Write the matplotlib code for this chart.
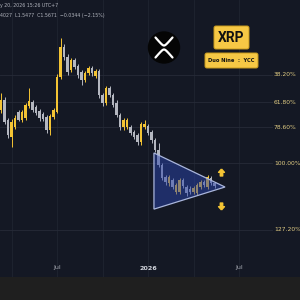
import numpy as np
import matplotlib
matplotlib.use("Agg")
import matplotlib.pyplot as plt
from matplotlib import transforms
from matplotlib.patches import Rectangle, Polygon, Circle, FancyBboxPatch
from matplotlib.path import Path

# ---------------- data (weekly XRP candles) ----------------
opens = [2.471, 2.623, 2.328, 2.103, 2.233, 2.442, 2.328, 2.356, 2.531, 2.592,
         2.516, 2.456, 2.413, 2.370, 2.193, 2.370, 2.442, 3.010, 3.601, 3.392,
         3.138, 3.331, 3.214, 3.101, 2.956, 3.083, 3.176, 3.028, 3.120, 2.703,
         2.577, 2.819, 2.703, 2.577, 2.398, 2.233, 2.233, 2.233, 2.167, 2.128,
         2.042, 2.233, 2.246, 2.167, 2.066, 1.946, 1.779, 1.656, 1.598, 1.627,
         1.514, 1.514, 1.627, 1.560, 1.541, 1.514, 1.505, 1.560, 1.608, 1.560,
         1.647, 1.6015]
highs = [2.736, 2.671, 2.356, 2.342, 2.398, 2.471, 2.471, 2.577, 2.819, 2.623,
         2.546, 2.486, 2.442, 2.398, 2.413, 2.501, 3.064, 3.800, 3.666, 3.453,
         3.371, 3.371, 3.253, 3.138, 3.120, 3.214, 3.214, 3.157, 3.157, 2.736,
         2.852, 2.852, 2.736, 2.623, 2.427, 2.356, 2.356, 2.259, 2.193, 2.154,
         2.300, 2.328, 2.273, 2.193, 2.091, 2.030, 1.801, 1.676, 1.676, 1.647,
         1.598, 1.647, 1.647, 1.579, 1.570, 1.570, 1.598, 1.627, 1.627, 1.676,
         1.666, 1.6027]
lows = [2.427, 2.273, 2.091, 1.981, 2.206, 2.314, 2.300, 2.328, 2.501, 2.442,
        2.398, 2.314, 2.314, 2.154, 2.128, 2.342, 2.427, 2.974, 3.331, 3.046,
        3.101, 3.157, 2.992, 2.869, 2.921, 3.046, 3.028, 2.992, 2.655, 2.531,
        2.546, 2.671, 2.516, 2.370, 2.193, 2.193, 2.206, 2.128, 2.078, 2.005,
        2.005, 2.206, 2.128, 2.030, 1.923, 1.758, 1.627, 1.579, 1.570, 1.541,
        1.496, 1.496, 1.551, 1.478, 1.496, 1.496, 1.487, 1.541, 1.560, 1.541,
        1.579, 1.5477]
closes = [2.623, 2.300, 2.128, 2.300, 2.356, 2.328, 2.442, 2.546, 2.608, 2.471,
          2.427, 2.356, 2.342, 2.193, 2.384, 2.471, 3.010, 3.601, 3.392, 3.101,
          3.331, 3.195, 3.046, 2.956, 3.083, 3.176, 3.083, 3.120, 2.703, 2.577,
          2.819, 2.703, 2.546, 2.398, 2.233, 2.328, 2.328, 2.154, 2.103, 2.042,
          2.273, 2.273, 2.154, 2.066, 1.946, 1.779, 1.647, 1.608, 1.656, 1.560,
          1.579, 1.627, 1.570, 1.505, 1.514, 1.551, 1.579, 1.608, 1.579, 1.656,
          1.598, 1.5671]

fib_labels = ["38.20%", "61.80%", "78.60%", "100.00%", "127.20%"]
fib_prices = [3.046, 2.592, 2.232, 1.800, 1.207]

tick_pos = [16, 42, 68]
tick_labels = ["Jul", "2026", "Jul"]
grid_pos = [3, 16, 29, 42, 55, 68]

tri_x = [43.7, 43.7, 64.0]
tri_y = [1.912, 1.367, 1.560]

arrow_up = (62.9, 1.707)
arrow_down = (62.9, 1.392)

header1 = "y 20, 2026 15:26 UTC+7"
header2 = "4027  L1.5477  C1.5671  \u22120.0344 (\u22122.15%)"

# ---------------- style ----------------
BG = "#141824"
YEL = "#f4c434"
GRY = "#b4b7c0"
FIBC = "#e2cd84"

fig = plt.figure(figsize=(3, 3), dpi=100, facecolor=BG)
ax = fig.add_axes([0, 0, 1, 1])
ax.set_yscale("log")
ax.set_xlim(-0.29, 85.43)
ax.set_ylim(0.7944, 4.767)
ax.axis("off")

# grid
for g in grid_pos:
    ax.axvline(g, color="#1f2431", lw=0.6, zorder=0)
blend = transforms.blended_transform_factory(ax.transAxes, ax.transData)
for p, lab in zip(fib_prices, fib_labels):
    ax.plot([0, 0.905], [p, p], transform=blend, color="#262b38", lw=0.6, zorder=0)
    ax.text(0.913, p, lab, transform=blend, color=FIBC, fontsize=4.3,
            ha="left", va="center", zorder=6)

# candles
o = np.array(opens); h = np.array(highs); l = np.array(lows); c = np.array(closes)
x = np.arange(len(o))
up = c >= o
cols = np.where(up, YEL, GRY)
ax.vlines(x, l, h, colors=cols, lw=0.7, zorder=2)
bottom = np.minimum(o, c)
height = np.maximum(np.abs(c - o), 0.008)
ax.bar(x, height, bottom=bottom, width=0.84, color=cols, linewidth=0, zorder=3)

# triangle
tri = Polygon(list(zip(tri_x, tri_y)), closed=True, facecolor=(0.17, 0.27, 0.68, 0.5),
              edgecolor="#aab6dc", lw=0.9, zorder=4)
ax.add_patch(tri)

# arrows
up_path = Path([(0, 1), (0.85, 0.05), (0.35, 0.05), (0.35, -1), (-0.35, -1),
                (-0.35, 0.05), (-0.85, 0.05), (0, 1)])
down_path = Path([(0, -1), (0.85, -0.05), (0.35, -0.05), (0.35, 1), (-0.35, 1),
                  (-0.35, -0.05), (-0.85, -0.05), (0, -1)])
ax.plot([arrow_up[0]], [arrow_up[1]], marker=up_path, ms=5, color=YEL, mec=YEL, zorder=6)
ax.plot([arrow_down[0]], [arrow_down[1]], marker=down_path, ms=5, color=YEL, mec=YEL, zorder=6)

# x tick labels
xt = ax.get_xaxis_transform()
for tp, tl in zip(tick_pos, tick_labels):
    bold = tl.isdigit()
    ax.text(tp, 1 - 268 / 300, tl, transform=xt, ha="center", va="center",
            fontsize=4.6, color="#d1d4dc" if bold else "#a3a6af",
            fontweight="bold" if bold else "normal", zorder=7)

# ---------------- overlay (decorations in pixel space) ----------------
ov = fig.add_axes([0, 0, 1, 1], zorder=5)
ov.set_xlim(0, 300)
ov.set_ylim(300, 0)
ov.axis("off")
ov.patch.set_alpha(0)

ov.add_patch(Rectangle((0, 277), 300, 23, color="#1f1f1f", lw=0))

ov.text(0.5, 5, header1, fontsize=3.4, color="#b2b5be", ha="left", va="center")
ov.text(0.5, 15, header2, fontsize=3.4, color="#b2b5be", ha="left", va="center")

# logo
ov.add_patch(Circle((164, 47.5), 15.5, color="#050505", zorder=2))
t = np.linspace(-1, 1, 60)
shape = (np.sqrt(t ** 2 + 0.05) - np.sqrt(0.05)) / (np.sqrt(1.05) - np.sqrt(0.05))
ov.plot(164 + 8.5 * t, 45.5 - 8.0 * shape, color="white", lw=1.6,
        solid_capstyle="round", zorder=3)
ov.plot(164 + 8.5 * t, 49.5 + 8.0 * shape, color="white", lw=1.6,
        solid_capstyle="round", zorder=3)

# XRP box
ov.add_patch(FancyBboxPatch((214, 26), 35, 23, boxstyle="round,pad=0,rounding_size=2",
                            facecolor="#f6c845", edgecolor="#c79a1e", lw=0.7, zorder=2))
ov.text(231.5, 38, "XRP", family="Roboto", fontweight="bold", fontsize=10,
        color="#111111", ha="center", va="center", zorder=3)
ov.add_patch(FancyBboxPatch((205, 53), 53, 15, boxstyle="round,pad=0,rounding_size=2",
                            facecolor="#f6c845", edgecolor="#c79a1e", lw=0.7, zorder=2))
ov.text(231.5, 60.8, "Duo Nine  :  YCC", fontweight="bold", fontsize=3.7,
        color="#111111", ha="center", va="center", zorder=3)

fig.savefig("out.png", dpi=100, facecolor=BG)
